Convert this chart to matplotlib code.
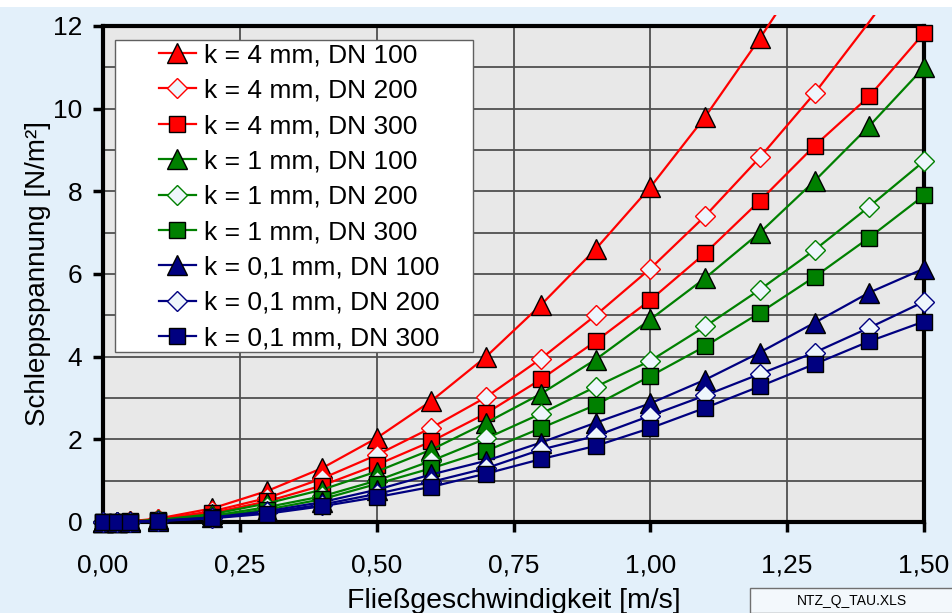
import matplotlib
matplotlib.use("Agg")
import matplotlib.pyplot as plt
import numpy as np
from matplotlib.patches import Rectangle
from matplotlib.ticker import MultipleLocator, FuncFormatter

plt.rcParams['font.family'] = ['Liberation Sans', 'DejaVu Sans']

# flow velocity [m/s]
v = np.array([0, 0.025, 0.05, 0.1, 0.2, 0.3, 0.4, 0.5, 0.6, 0.7, 0.8, 0.9,
              1.0, 1.1, 1.2, 1.3, 1.4, 1.5])

# shear stress [N/m2]
k4_dn100 = [0, 0.005, 0.02, 0.08, 0.33, 0.75, 1.3, 2.03, 2.93, 4.0, 5.25, 6.6,
            8.1, 9.8, 11.7, 13.7, 15.9, 18.2]
k4_dn200 = [0, 0.004, 0.016, 0.065, 0.26, 0.58, 1.05, 1.62, 2.28, 3.02, 3.95, 5.0,
            6.13, 7.4, 8.82, 10.37, 12.1, 13.9]
k4_dn300 = [0, 0.003, 0.013, 0.055, 0.22, 0.5, 0.88, 1.38, 1.95, 2.63, 3.45, 4.37,
            5.37, 6.5, 7.77, 9.1, 10.3, 11.83]
k1_dn100 = [0, 0.003, 0.012, 0.05, 0.19, 0.45, 0.78, 1.22, 1.75, 2.4, 3.1, 3.93,
            4.9, 5.9, 7.0, 8.25, 9.58, 11.0]
k1_dn200 = [0, 0.002, 0.009, 0.04, 0.15, 0.36, 0.62, 1.0, 1.48, 2.02, 2.62, 3.27,
            3.9, 4.73, 5.62, 6.58, 7.63, 8.73]
k1_dn300 = [0, 0.002, 0.008, 0.035, 0.13, 0.3, 0.55, 0.92, 1.3, 1.72, 2.27, 2.83,
            3.53, 4.25, 5.06, 5.93, 6.88, 7.9]
k01_dn100 = [0, 0.002, 0.007, 0.03, 0.11, 0.26, 0.48, 0.78, 1.15, 1.48, 1.92, 2.4,
             2.87, 3.44, 4.1, 4.82, 5.55, 6.13]
k01_dn200 = [0, 0.002, 0.006, 0.025, 0.1, 0.23, 0.42, 0.68, 0.97, 1.3, 1.75, 2.08,
             2.57, 3.06, 3.58, 4.1, 4.7, 5.33]
k01_dn300 = [0, 0.001, 0.005, 0.02, 0.09, 0.2, 0.38, 0.6, 0.85, 1.17, 1.52, 1.84,
             2.27, 2.76, 3.28, 3.82, 4.37, 4.85]

labels = ['k = 4 mm, DN 100', 'k = 4 mm, DN 200', 'k = 4 mm, DN 300',
          'k = 1 mm, DN 100', 'k = 1 mm, DN 200', 'k = 1 mm, DN 300',
          'k = 0,1 mm, DN 100', 'k = 0,1 mm, DN 200', 'k = 0,1 mm, DN 300']
series = [k4_dn100, k4_dn200, k4_dn300, k1_dn100, k1_dn200, k1_dn300,
          k01_dn100, k01_dn200, k01_dn300]
colors = ['#ff0000'] * 3 + ['#008000'] * 3 + ['#000080'] * 3
markers = ['^', 'D', 's'] * 3

fig = plt.figure(figsize=(9.52, 6.13), dpi=100, facecolor='#e3f0fa')
fig.patches.append(Rectangle((0, 0.989), 1, 0.011, transform=fig.transFigure,
                             facecolor='white', edgecolor='none'))
ax = fig.add_axes([0.1082, 0.1485, 0.8624, 0.8091])
ax.set_facecolor('#e8e8e8')

# a bit larger than the axes, so markers on the edges stay whole
clip = Rectangle((-0.03, -0.04), 1.06, 1.062, transform=ax.transAxes,
                 facecolor='none', edgecolor='none')
ax.add_patch(clip)

for y, lab, c, m in zip(series, labels, colors, markers):
    y = np.array(y)
    if m == 'D':
        mfc, mec, ms = '#eef6fc', c, 10
    elif m == '^':
        mfc, mec, ms = c, 'black', 14.5
    else:
        mfc, mec, ms = c, 'black', 11
    ln, = ax.plot(v, y, color=c, lw=1.6, marker=m, ms=ms, mfc=mfc, mec=mec,
                  mew=1.0, markevery=list(y <= 12), label=lab, zorder=3)
    ln.set_clip_path(clip)

ax.set_xlim(0, 1.5)
ax.set_ylim(0, 12)
ax.xaxis.set_major_locator(MultipleLocator(0.25))
ax.yaxis.set_major_locator(MultipleLocator(2))
ax.yaxis.set_minor_locator(MultipleLocator(1))
ax.xaxis.set_major_formatter(FuncFormatter(lambda x, p: f'{x:.2f}'.replace('.', ',')))
ax.grid(True, which='both', color='#505050', lw=1.3)
ax.set_axisbelow(True)
ax.tick_params(axis='both', which='major', direction='out', length=7, width=2.5,
               labelsize=19)
ax.tick_params(axis='x', pad=16)
ax.tick_params(axis='y', pad=8)
ax.tick_params(axis='y', which='minor', length=0)
for s in ax.spines.values():
    s.set_linewidth(3)
    s.set_color('black')

ax.set_xlabel('Fließgeschwindigkeit [m/s]', fontsize=20.5, labelpad=7)
ax.set_ylabel('Schleppspannung [N/m²]', fontsize=20, labelpad=1.5)

# legend box drawn separately, the legend itself sits inside it
ax.add_patch(Rectangle((0.0146, 0.3427), 0.436, 0.6291, transform=ax.transAxes,
                       facecolor='white', edgecolor='#606060', lw=1.0, zorder=9))
leg = ax.legend(loc='upper left', bbox_to_anchor=(0.068, 0.965), fontsize=19,
                frameon=False, handlelength=1.4, handletextpad=0.3,
                labelspacing=0.43, borderpad=0, borderaxespad=0)
leg.set_zorder(10)

fig.patches.append(Rectangle((750 / 952, 0), 0.3, 25 / 613, transform=fig.transFigure,
                             facecolor='#f3f8fc', edgecolor='#707070', lw=1.0))
fig.text(852 / 952, 12 / 613, 'NTZ_Q_TAU.XLS', fontsize=10, ha='center', va='center')

fig.savefig('out.png', dpi=100, facecolor=fig.get_facecolor())
